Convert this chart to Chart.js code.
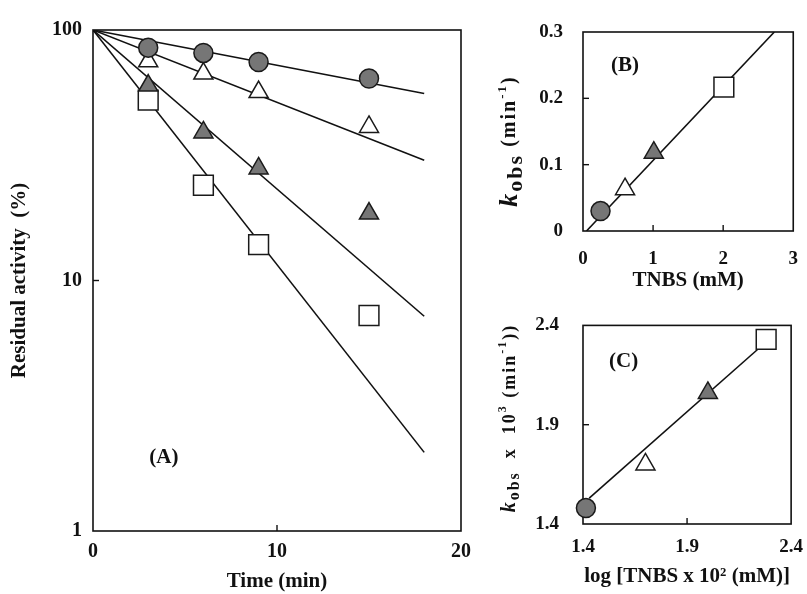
<!DOCTYPE html>
<html>
<head>
<meta charset="utf-8">
<title>Inactivation by TNBS</title>
<script src="https://cdn.jsdelivr.net/npm/chart.js"></script>
<style>
  html, body { margin: 0; padding: 0; background: #fff; overflow: hidden; }
  body { width: 807px; height: 594px; position: relative; }
  canvas { position: absolute; }
  #chartA { left: 0; top: 0; }
  #chartB { left: 480px; top: 0; }
  #chartC { left: 480px; top: 290px; }
</style>
</head>
<body>
<canvas id="chartA" width="480" height="594"></canvas>
<canvas id="chartB" width="335" height="293"></canvas>
<canvas id="chartC" width="335" height="304"></canvas>
<script>
// (A) residual activity (%) vs time (min), four TNBS concentrations
const timeA = [3, 6, 9, 15];
const circleA = [85, 81, 74.5, 64];
const openTriA = [75, 67, 56.5, 41];
const fillTriA = [60, 39, 28, 18.5];
const squareA = [52.5, 24, 13.9, 7.25];
// fitted lines in (A), from t = 0 to t = 18
const fitTimeA = [0, 18];
const fitCircleA = [100, 55.8];
const fitOpenTriA = [100, 30.2];
const fitFillTriA = [100, 7.2];
const fitSquareA = [100, 2.06];
const xTicksA = [0, 10, 20];
const yTicksA = [1, 10, 100];

// (B) kobs vs TNBS (mM), one point per concentration
const tnbsB = [0.25, 0.6, 1.01, 2.01];
const kobsB = [0.03, 0.063, 0.118, 0.217];
const fitTnbsB = [0.05, 2.73];
const fitKobsB = [0, 0.3];
const xTicksB = [0, 1, 2, 3];
const yTicksB = [0, 0.1, 0.2, 0.3];
const yLabelsB = ['0', '0.1', '0.2', '0.3'];

// (C) log-log plot
const logTnbsC = [1.414, 1.70, 2.0, 2.28];
const logKC = [1.48, 1.70, 2.06, 2.33];
const fitLogTnbsC = [1.43, 2.24];
const fitLogKC = [1.53, 2.28];
const xTicksC = [1.4, 1.9, 2.4];
const yTicksC = [1.4, 1.9, 2.4];
const labelsC = ['1.4', '1.9', '2.4'];

const SERIF = '"Liberation Serif", "DejaVu Serif", serif';
const GREY = '#767676';

// marker look, same order in every panel: circle, open triangle, filled triangle, square
const markers = [
  { style: 'circle', fill: GREY, radius: 9.5 },
  { style: 'triangle', fill: '#ffffff', radius: 11 },
  { style: 'triangle', fill: GREY, radius: 11 },
  { style: 'rect', fill: '#ffffff', radius: 14 }
];

const pts = (xs, ys) => xs.map((x, i) => ({ x: x, y: ys[i] }));

const markerSet = (xs, ys, m) => ({
  data: pts(xs, ys),
  pointStyle: m.style,
  pointRadius: m.radius,
  pointBackgroundColor: m.fill,
  pointBorderColor: '#1a1a1a',
  pointBorderWidth: 1.5,
  showLine: false,
  clip: false
});

// one dataset per point, so each point gets its own marker
const markerSets = (xs, ys) => xs.map((x, i) => markerSet([x], [ys[i]], markers[i]));

const lineSet = (xs, ys) => ({
  data: pts(xs, ys),
  showLine: true,
  borderColor: '#111',
  borderWidth: 1.6,
  pointRadius: 0
});

// box round the plot, short inward ticks, panel letter, rich y title
const framePlugin = {
  id: 'frame',
  beforeDatasetsDraw(chart, args, opts) {
    const { ctx, chartArea: a, scales } = chart;
    ctx.save();
    ctx.strokeStyle = '#111';
    ctx.lineWidth = 1.6;
    ctx.strokeRect(a.left, a.top, a.right - a.left, a.bottom - a.top);
    ctx.lineWidth = 1.4;
    const len = 6;
    scales.x.ticks.forEach(t => {
      const px = scales.x.getPixelForValue(t.value);
      if (px > a.left + 2 && px < a.right - 2) {
        ctx.beginPath(); ctx.moveTo(px, a.bottom); ctx.lineTo(px, a.bottom - len); ctx.stroke();
      }
    });
    scales.y.ticks.forEach(t => {
      const py = scales.y.getPixelForValue(t.value);
      if (py > a.top + 2 && py < a.bottom - 2) {
        ctx.beginPath(); ctx.moveTo(a.left, py); ctx.lineTo(a.left + len, py); ctx.stroke();
      }
    });
    ctx.restore();
  },
  afterDraw(chart, args, opts) {
    const { ctx, scales } = chart;
    ctx.save();
    ctx.fillStyle = '#111';
    if (opts.label) {
      ctx.font = 'bold 21px ' + SERIF;
      ctx.textAlign = 'center';
      ctx.textBaseline = 'middle';
      ctx.fillText(opts.label, scales.x.getPixelForValue(opts.at[0]), scales.y.getPixelForValue(opts.at[1]));
    }
    if (opts.yTitle) {
      const parts = opts.yTitle;
      ctx.letterSpacing = opts.spacing || '1px';
      let total = 0;
      parts.forEach(p => { ctx.font = p.font + ' ' + SERIF; p.w = ctx.measureText(p.text).width; total += p.w; });
      ctx.translate(opts.titleX, opts.titleY);
      ctx.rotate(-Math.PI / 2);
      ctx.textAlign = 'left';
      ctx.textBaseline = 'middle';
      let x = -total / 2;
      parts.forEach(p => {
        ctx.font = p.font + ' ' + SERIF;
        ctx.fillText(p.text, x, p.dy || 0);
        x += p.w;
      });
    }
    ctx.restore();
  }
};

const tickFont = size => ({ family: SERIF, size: size, weight: 'bold' });

function makeChart(id, datasets, scales, layout, frame) {
  return new Chart(document.getElementById(id), {
    type: 'scatter',
    data: { datasets: datasets },
    options: {
      responsive: false,
      animation: false,
      layout: { padding: layout },
      plugins: { legend: { display: false }, tooltip: { enabled: false }, frame: frame },
      scales: scales
    },
    plugins: [framePlugin]
  });
}

function axis(opts) {
  const s = {
    type: opts.type || 'linear',
    min: opts.min,
    max: opts.max,
    grid: { display: false, drawTicks: false },
    border: { display: false },
    ticks: {
      color: '#111',
      font: tickFont(opts.size),
      padding: opts.pad,
      maxRotation: 0,
      autoSkip: false,
      callback: (v, i) => opts.labels ? opts.labels[i] : String(v)
    },
    afterBuildTicks: sc => { sc.ticks = opts.ticks.map(v => ({ value: v })); },
    afterFit: sc => {
      if (opts.width) sc.width = opts.width;
      if (opts.height) sc.height = opts.height;
    }
  };
  if (opts.title) {
    s.title = {
      display: true,
      text: opts.title,
      color: '#111',
      font: { family: SERIF, size: 21, weight: 'bold' },
      padding: opts.titlePad
    };
  }
  return s;
}

// (A)
makeChart('chartA', [
  markerSet(timeA, circleA, markers[0]),
  markerSet(timeA, openTriA, markers[1]),
  markerSet(timeA, fillTriA, markers[2]),
  markerSet(timeA, squareA, markers[3]),
  lineSet(fitTimeA, fitCircleA),
  lineSet(fitTimeA, fitOpenTriA),
  lineSet(fitTimeA, fitFillTriA),
  lineSet(fitTimeA, fitSquareA)
], {
  x: axis({ min: 0, max: 20, ticks: xTicksA, size: 20, pad: 9, height: 63,
            title: 'Time (min)', titlePad: { top: 0, bottom: 0 } }),
  y: axis({ type: 'logarithmic', min: 1, max: 100, ticks: yTicksA, size: 20, pad: 11, width: 93,
            title: 'Residual activity  (%)', titlePad: { top: 7, bottom: 0 } })
}, { left: 0, right: 18, top: 30, bottom: 0 }, { label: '(A)', at: [3.85, 1.97] });

// (B)
makeChart('chartB', [
  ...markerSets(tnbsB, kobsB),
  lineSet(fitTnbsB, fitKobsB)
], {
  x: axis({ min: 0, max: 3, ticks: xTicksB, size: 19, pad: 17, height: 62,
            title: 'TNBS (mM)', titlePad: { top: 0, bottom: 0 } }),
  y: axis({ min: 0, max: 0.3, ticks: yTicksB, labels: yLabelsB, size: 19, pad: 20, width: 103 })
}, { left: 0, right: 13, top: 32, bottom: 0 }, {
  label: '(B)', at: [0.6, 0.249],
  titleX: 30, titleY: 141, spacing: '2px',
  yTitle: [
    { text: 'k', font: 'italic bold 26px' },
    { text: 'obs', font: 'bold 22px', dy: 6 },
    { text: ' (min', font: 'bold 20px' },
    { text: '-1', font: 'bold 13px', dy: -7 },
    { text: ')', font: 'bold 20px' }
  ]
});

// (C)
makeChart('chartC', [
  ...markerSets(logTnbsC, logKC),
  lineSet(fitLogTnbsC, fitLogKC)
], {
  x: axis({ min: 1.4, max: 2.4, ticks: xTicksC, labels: labelsC, size: 19, pad: 12, height: 70,
            title: 'log [TNBS x 10² (mM)]', titlePad: { top: 0, bottom: 5 } }),
  y: axis({ min: 1.4, max: 2.4, ticks: yTicksC, labels: labelsC, size: 19, pad: 24, width: 103 })
}, { left: 0, right: 12, top: 33, bottom: 0 }, {
  label: '(C)', at: [1.595, 2.22],
  titleX: 30, titleY: 128, spacing: '2px',
  yTitle: [
    { text: 'k', font: 'italic bold 20px' },
    { text: 'obs', font: 'bold 16px', dy: 5 },
    { text: '  x  10', font: 'bold 18px' },
    { text: '3', font: 'bold 12px', dy: -7 },
    { text: ' (min', font: 'bold 18px' },
    { text: '-1', font: 'bold 12px', dy: -7 },
    { text: '))', font: 'bold 18px' }
  ]
});
</script>
</body>
</html>
